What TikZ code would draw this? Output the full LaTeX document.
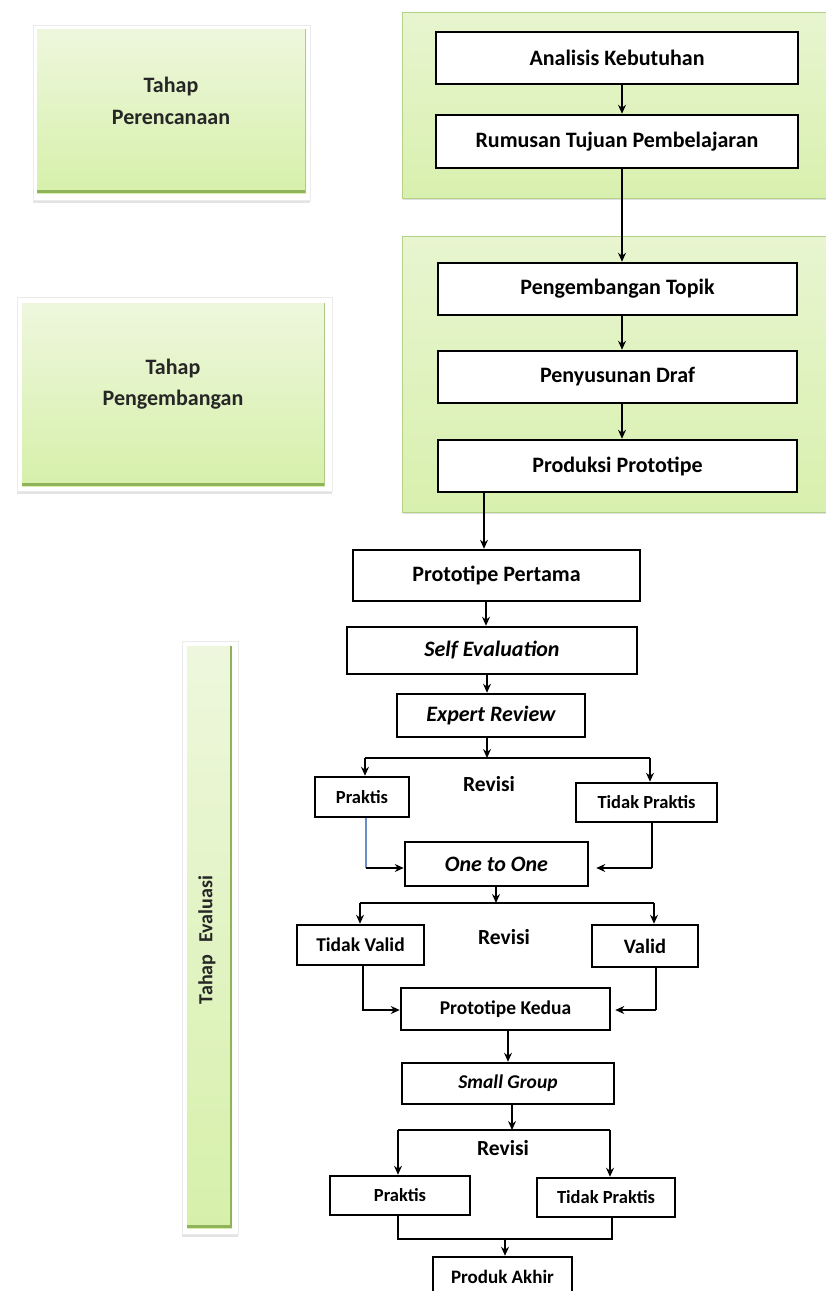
\documentclass[tikz,border=0pt]{standalone}
\usepackage{fontspec}
\setmainfont{Carlito}
\usetikzlibrary{arrows.meta,shadows,calc}
\definecolor{gtop}{HTML}{EEF7DD}
\definecolor{gbot}{HTML}{D6F0AA}
\definecolor{ptop}{HTML}{E8F5D0}
\definecolor{pbot}{HTML}{D8F0AE}
\definecolor{gedge}{HTML}{B3D287}
\definecolor{gdark}{HTML}{8FB25A}
\definecolor{blueline}{HTML}{6A8CC8}
\newcommand{\fsz}[1]{\fontsize{#1}{#1}\selectfont}
\tikzset{
  flow/.style={draw=black, line width=2.5pt, fill=white, inner sep=0pt,
    font=\bfseries\fsz{22},
    drop shadow={opacity=0.18, shadow xshift=1pt, shadow yshift=-1pt}},
  small/.style={flow, font=\bfseries\fsz{18.5}},
  mid/.style={flow, font=\bfseries\fsz{19.5}},
  panel/.style={draw=gedge, line width=1pt, top color=ptop, bottom color=pbot,
    drop shadow={opacity=0.25, shadow xshift=1pt, shadow yshift=-2pt}},
  phaseout/.style={draw=black!8, line width=0.6pt, fill=white, inner sep=0pt,
    drop shadow={opacity=0.22, shadow xshift=0pt, shadow yshift=-3pt}},
  phasein/.style={draw=none, top color=gtop, bottom color=gbot, inner sep=0pt},
  phasetext/.style={font=\bfseries\fontsize{22}{31.5}\selectfont, align=center, text=black!85},
  lbl/.style={font=\bfseries\fsz{21.5}},
  arr/.style={-{Stealth[length=9pt,width=8pt]}, line width=1.3pt},
  plain/.style={line width=1.3pt},
}
\begin{document}
\begin{tikzpicture}[x=1pt,y=-1pt]
\useasboundingbox (0,0) rectangle (826,1291);

% ---- left phase boxes ----
\node[phaseout, minimum width=277pt, minimum height=175pt] (LPo) at (171.5,112.5) {};
\node[phasein, minimum width=269pt, minimum height=164pt] (LP) at (171.5,111) {};
\draw[gdark, line width=3pt] ([yshift=1.5pt]LP.south west) -- ([yshift=1.5pt]LP.south east);
\draw[gdark!70, line width=1.5pt] ([xshift=-0.75pt]LP.south east) -- ([xshift=-0.75pt]LP.north east);
\node[phasetext] (LPt) at (171,101) {Tahap\\Perencanaan};

\node[phaseout, minimum width=315pt, minimum height=194pt] (LDo) at (174.5,394) {};
\node[phasein, minimum width=303pt, minimum height=183pt] (LD) at (173.5,394.5) {};
\draw[gdark, line width=3pt] ([yshift=1.5pt]LD.south west) -- ([yshift=1.5pt]LD.south east);
\draw[gdark!70, line width=1.5pt] ([xshift=-0.75pt]LD.south east) -- ([xshift=-0.75pt]LD.north east);
\node[phasetext] (LDt) at (173,384) {Tahap\\Pengembangan};

\node[phaseout, minimum width=56pt, minimum height=593pt] (LEo) at (210,937.5) {};
\node[phasein, minimum width=45pt, minimum height=582pt] (LE) at (209.5,937) {};
\draw[gdark, line width=3pt] ([yshift=1.5pt]LE.south west) -- ([yshift=1.5pt]LE.south east);
\draw[gdark, line width=2pt] ([xshift=-1pt]LE.south east) -- ([xshift=-1pt]LE.north east);
\node[font=\bfseries\fsz{20}, rotate=90, text=black!85] (LEt) at (207,940) {Tahap\hspace{0.6em}Evaluasi};

% ---- green panels ----
\node[panel, minimum width=424pt, minimum height=186pt] (P1) at (614,105) {};
\node[panel, minimum width=424pt, minimum height=276pt] (P2) at (614,374) {};

% ---- flow boxes ----
\node[flow, minimum width=362pt, minimum height=52pt] (A) at (617,58) {Analisis Kebutuhan};
\node[flow, minimum width=362pt, minimum height=53pt] (R) at (617,141.5) {Rumusan Tujuan Pembelajaran};
\node[flow, minimum width=359pt, minimum height=52pt] (PT) at (617.5,289) {Pengembangan Topik};
\node[flow, minimum width=359pt, minimum height=52pt] (PD) at (617.5,377) {Penyusunan Draf};
\node[flow, minimum width=359pt, minimum height=52pt] (PP) at (617.5,466) {Produksi Prototipe};

\node[flow, minimum width=287pt, minimum height=51pt] (P1b) at (496.5,575.5) {Prototipe Pertama};
\node[flow, minimum width=290pt, minimum height=47pt] (SE) at (492,650.5) {\itshape Self Evaluation};
\node[flow, minimum width=188pt, minimum height=43pt] (ER) at (491,715.5) {\itshape Expert Review};

\node[small, minimum width=94pt, minimum height=40pt] (K1) at (362,797) {Praktis};
\node[small, minimum width=141pt, minimum height=39pt] (T1) at (646.5,802.5) {Tidak Praktis};
\node[lbl] (RV1) at (489,784) {Revisi};

\node[flow, minimum width=183pt, minimum height=44pt] (OO) at (496.5,864) {\itshape One to One};

\node[mid, minimum width=127pt, minimum height=40pt] (TV) at (360.5,945) {Tidak Valid};
\node[mid, font=\bfseries\fsz{20.5}, minimum width=106pt, minimum height=42pt] (V) at (645,946) {Valid};
\node[lbl] (RV2) at (504,937) {Revisi};

\node[mid, minimum width=209pt, minimum height=42pt] (PK) at (505.5,1009) {Prototipe Kedua};
\node[mid, minimum width=212pt, minimum height=41pt] (SG) at (508,1083.5) {\itshape Small Group};

\node[small, minimum width=140pt, minimum height=39pt] (K2) at (400,1195.5) {Praktis};
\node[small, minimum width=138pt, minimum height=39pt] (T2) at (606,1197.5) {Tidak Praktis};
\node[lbl] (RV3) at (503,1148) {Revisi};

\node[small, font=\bfseries\fsz{19}, minimum width=139pt, minimum height=40pt] (PA) at (502.5,1277) {Produk Akhir};

% ---- connectors ----
\coordinate (cx) at (622,0);
\draw[arr] (A.south -| cx) -- (R.north -| cx);
\draw[arr] (R.south -| cx) -- (PT.north -| cx);
\draw[arr] (PT.south -| cx) -- (PD.north -| cx);
\draw[arr] (PD.south -| cx) -- (PP.north -| cx);

\coordinate (c2) at (484,0);
\draw[arr] (PP.south -| c2) -- (P1b.north -| c2);
\coordinate (c3) at (486,0);
\draw[arr] (P1b.south -| c3) -- (SE.north -| c3);
\coordinate (c4) at (487,0);
\draw[arr] (SE.south -| c4) -- (ER.north -| c4);

% branch 1
\coordinate (b1) at (487,758);
\coordinate (b1L) at (365,758);
\coordinate (b1R) at (650,758);
\draw[arr] (ER.south -| b1) -- (b1);
\draw[plain] (b1L) -- (b1R);
\draw[arr] (b1L) -- (K1.north -| b1L);
\draw[arr] (b1R) -- (T1.north -| b1R);

% to One to One
\coordinate (j1) at (366,868);
\draw[blueline, line width=1.1pt] (K1.south -| j1) -- (j1);
\draw[arr] (j1) -- (OO.west |- j1);
\coordinate (j2) at (652,868);
\draw[plain] (T1.south -| j2) -- (j2);
\draw[arr, shorten >=7pt] (j2) -- (OO.east |- j2);

% branch 2
\coordinate (b2) at (496,903);
\coordinate (b2L) at (360,903);
\coordinate (b2R) at (654,903);
\draw[arr] (OO.south -| b2) -- (b2);
\draw[plain] (b2L) -- (b2R);
\draw[arr] (b2L) -- (TV.north -| b2L);
\draw[arr] (b2R) -- (V.north -| b2R);

% to Prototipe Kedua
\coordinate (j3) at (363,1010);
\draw[arr] (TV.south -| j3) |- (PK.west |- j3);
\coordinate (j4) at (656,1010);
\draw[plain] (V.south -| j4) -- (j4);
\draw[arr, shorten >=4pt] (j4) -- (PK.east |- j4);

\draw[arr] (PK.south -| SG.north) -- (SG.north);

% branch 3
\coordinate (b3) at (512,1130);
\coordinate (b3L) at (398,1130);
\coordinate (b3R) at (610,1130);
\draw[arr] (SG.south -| b3) -- (b3);
\draw[plain] (b3L) -- (b3R);
\draw[arr] (b3L) -- (K2.north -| b3L);
\draw[arr] (b3R) -- (T2.north -| b3R);

% merge
\coordinate (mL) at (398,1239);
\coordinate (mR) at (612,1239);
\coordinate (m) at (505,1239);
\draw[plain] (K2.south -| mL) -- (mL) -- (mR) -- (T2.south -| mR);
\draw[arr] (m) -- (PA.north -| m);
\end{tikzpicture}
\end{document}
